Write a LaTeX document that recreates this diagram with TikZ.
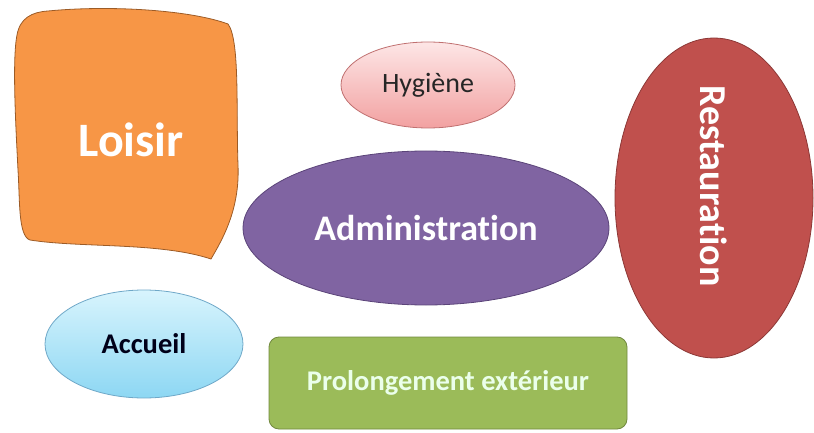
\documentclass[tikz,border=0pt]{standalone}
\usepackage{fontspec}
\setmainfont{Carlito}[Ligatures=NoCommon]
\usetikzlibrary{shapes.geometric}

\definecolor{loisirfill}{HTML}{F79646}
\definecolor{loisirline}{HTML}{9C5B26}
\definecolor{hygtop}{HTML}{FDE6E6}
\definecolor{hygbot}{HTML}{F2A1A1}
\definecolor{hygline}{HTML}{C07070}
\definecolor{adminfill}{HTML}{8064A2}
\definecolor{adminline}{HTML}{5B4479}
\definecolor{restofill}{HTML}{C0504D}
\definecolor{restoline}{HTML}{8C3836}
\definecolor{acctop}{HTML}{D8F4FD}
\definecolor{accbot}{HTML}{8DD7F3}
\definecolor{accline}{HTML}{6FA8C8}
\definecolor{prolfill}{HTML}{9BBB59}
\definecolor{prolline}{HTML}{71893F}

\begin{document}
\begin{tikzpicture}[x=1pt,y=-1pt,
    zone/.style={line width=0.8pt,inner sep=0pt,align=center},
    bigtxt/.style={font=\bfseries\fontsize{48}{52}\selectfont,text=white},
    midtxt/.style={font=\bfseries\fontsize{36}{40}\selectfont,text=white},
    smalltxt/.style={font=\bfseries\fontsize{28.5}{32}\selectfont}]
  \useasboundingbox (0,0) rectangle (814,433);

  % Loisir, hand drawn blob
  \filldraw[line width=0.8pt,draw=loisirline,fill=loisirfill]
    (48,11) .. controls (110,5) and (190,10) .. (228,24)
    .. controls (240,40) and (236,110) .. (238,165)
    .. controls (240,210) and (222,240) .. (211,259)
    .. controls (160,242) and (80,248) .. (30,240)
    .. controls (18,236) and (20,200) .. (18,170)
    .. controls (16,130) and (12,60) .. (17,35)
    .. controls (20,18) and (32,12) .. (48,11) -- cycle;
  \node[bigtxt] (loisir) at (131,140) {Loisir};

  \node[zone,ellipse,draw=hygline,top color=hygtop,bottom color=hygbot,
        minimum width=174pt,minimum height=86pt,
        font=\fontsize{28}{32}\selectfont,text=black!85] (hygiene) at (428,85) {Hygiène};

  \node[zone,ellipse,draw=adminline,fill=adminfill,
        minimum width=366pt,minimum height=154pt,midtxt] (admin) at (426,228) {Administration};

  \node[zone,ellipse,draw=restoline,fill=restofill,
        minimum width=198pt,minimum height=320pt] (resto) at (714,198) {};
  \node[rotate=-90,font=\bfseries\fontsize{38}{42}\selectfont,text=white]
        (restotxt) at ([yshift=12pt]resto.center) {Restauration};

  \node[zone,ellipse,draw=accline,top color=acctop,bottom color=accbot,
        minimum width=198pt,minimum height=108pt,smalltxt,text=black!90!blue] (accueil) at (144,344) {Accueil};

  \node[zone,rectangle,rounded corners=10pt,draw=prolline,fill=prolfill,
        minimum width=358pt,minimum height=92pt,smalltxt,text=white!92!green] (prolong) at (448,383) {Prolongement extérieur};
\end{tikzpicture}
\end{document}
